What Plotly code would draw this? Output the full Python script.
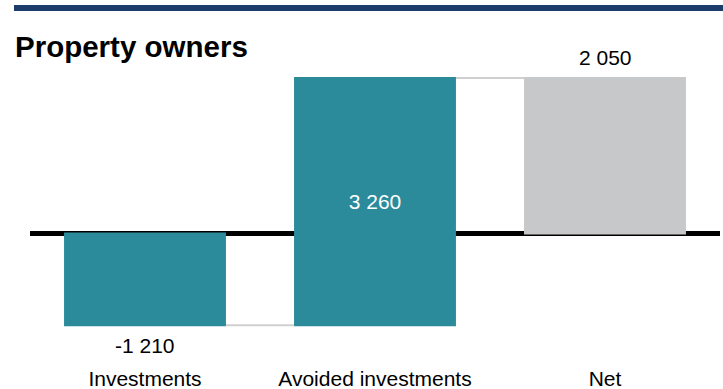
import plotly.graph_objects as go

# Waterfall: property owners' investments vs. avoided investments
categories = ["Investments", "Avoided investments", "Net"]
changes = [-1210, 3260]
net = sum(changes)
values = changes + [net]
measures = ["relative", "relative", "total"]

TEAL = "#2C8B9B"
GREY = "#C7C8CA"
NAVY = "#1C3D69"
FONT = "Liberation Sans, Arial, sans-serif"


def fmt(v):
    return f"{v:,}".replace(",", " ")


labels = [fmt(v) for v in values]

fig = go.Figure()
fig.add_trace(go.Waterfall(
    x=categories,
    y=values,
    measure=measures,
    base=0,
    text=["", labels[1], ""],
    textposition=["none", "inside", "none"],
    insidetextanchor="middle",
    insidetextfont=dict(color="white", size=21, family=FONT),
    textangle=0,
    increasing=dict(marker=dict(color=TEAL, line=dict(width=0))),
    decreasing=dict(marker=dict(color=TEAL, line=dict(width=0))),
    totals=dict(marker=dict(color=GREY, line=dict(width=0))),
    connector=dict(mode="between", line=dict(color="#D0D0D0", width=2)),
    width=0.704,
    hoverinfo="skip",
))

# running totals for placing the outside value labels
running = []
acc = 0
for v, m in zip(values, measures):
    acc = v if m == "total" else acc + v
    running.append(acc)

# label below the negative bar, above the total bar
fig.add_annotation(x=categories[0], y=running[0], text=labels[0], showarrow=False,
                   yanchor="middle", yshift=-20, font=dict(size=21, color="black", family=FONT))
fig.add_annotation(x=categories[2], y=running[2], text=labels[2], showarrow=False,
                   yanchor="middle", yshift=20, font=dict(size=21, color="black", family=FONT))

# top band
fig.add_shape(type="rect", xref="paper", yref="paper",
              x0=-0.0232, x1=1.01, y0=1.161, y1=1.181,
              fillcolor=NAVY, line=dict(width=0), layer="above")

fig.update_layout(
    width=723, height=389,
    margin=dict(l=30, r=3, t=60, b=25, autoexpand=False),
    paper_bgcolor="white", plot_bgcolor="white",
    showlegend=False,
    font=dict(family=FONT, size=21, color="black"),
    title=dict(text="<b>Property owners</b>", x=15 / 723, xanchor="left", xref="container",
               y=1 - 47 / 389, yanchor="middle", yref="container",
               font=dict(size=29.5, color="black", family=FONT)),
    xaxis=dict(showgrid=False, showline=False, ticks="", range=[-0.5, 2.5],
               automargin=False,
               tickfont=dict(size=21, color="black", family=FONT)),
    yaxis=dict(showgrid=False, showticklabels=False, ticks="", showline=False,
               automargin=False,
               range=[-1720, 2287], zeroline=True, zerolinecolor="black", zerolinewidth=5),
)

fig.write_html("out.html")
